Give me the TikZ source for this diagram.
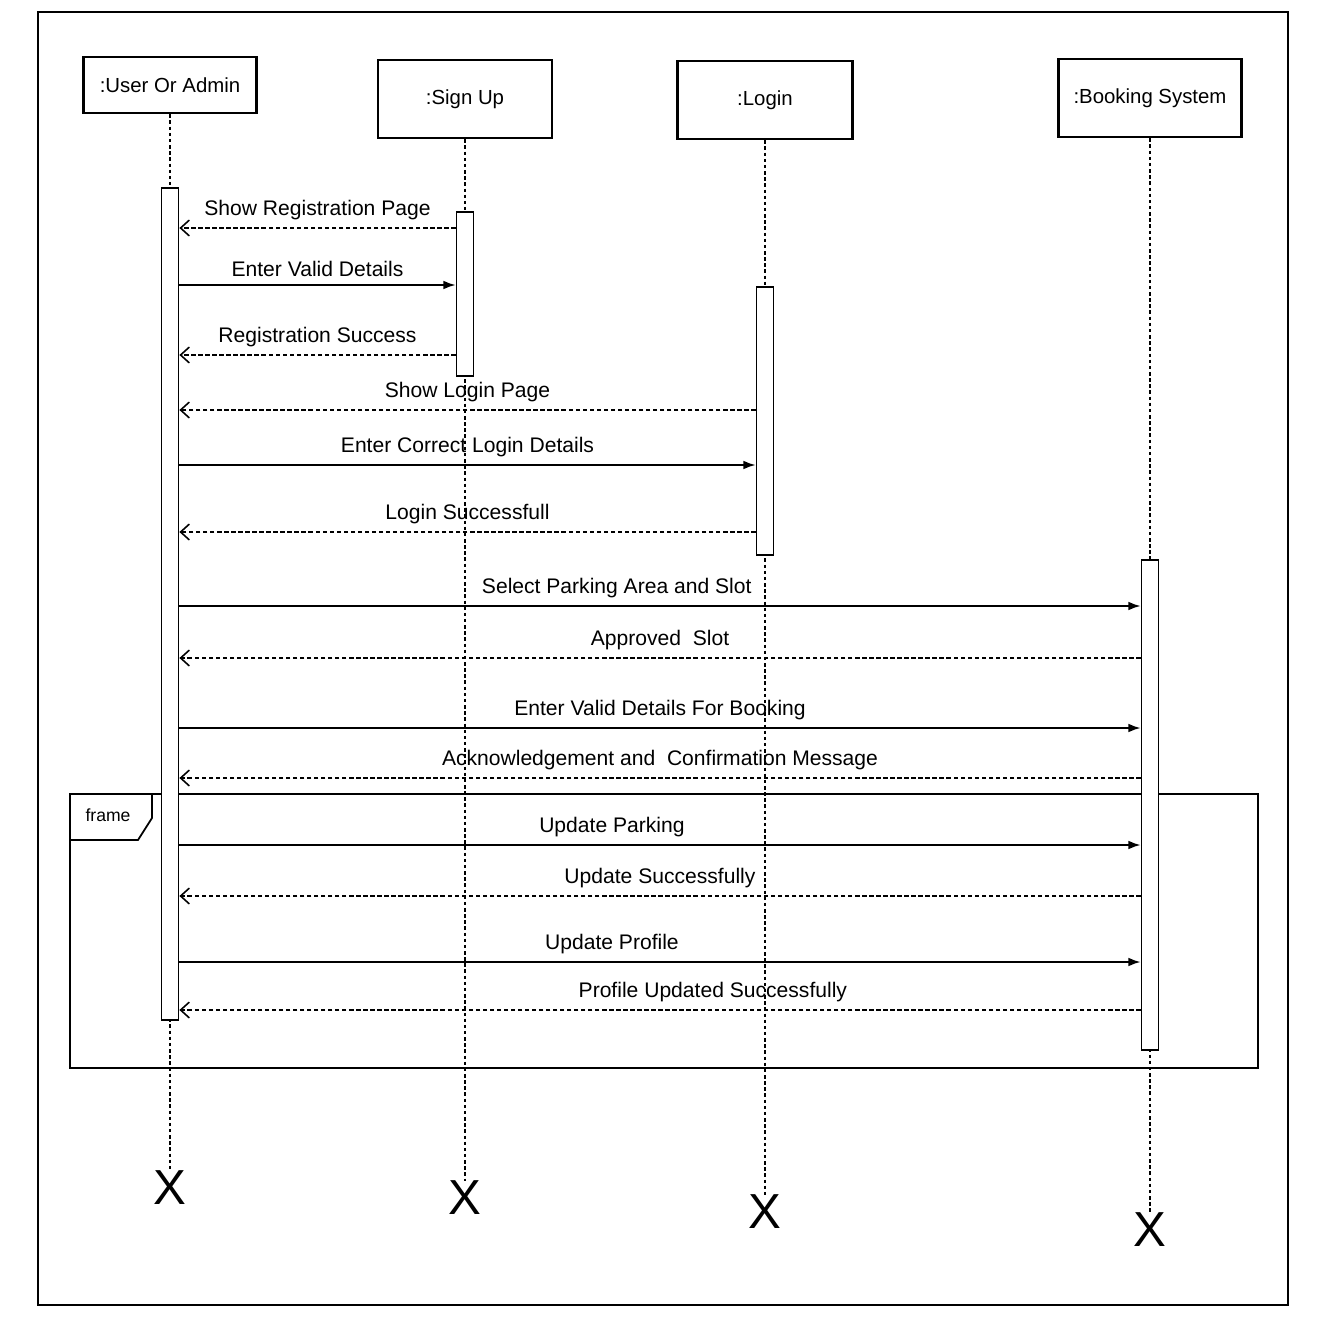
\documentclass[tikz,border=0pt]{standalone}
\usepackage{fontspec}
\setmainfont{Liberation Sans}
\usetikzlibrary{arrows.meta,positioning,calc}

\begin{document}
\begin{tikzpicture}[x=0.02cm,y=-0.02cm,
        actor/.style={draw,rectangle,line width=1.5pt,inner sep=0pt,font=\fontsize{11.6}{13}\selectfont},
        bar/.style={draw,rectangle,fill=white,line width=1pt,minimum width=0.34cm,inner sep=0pt},
        life/.style={line width=0.7pt,dash pattern=on 2pt off 1.5pt},
        call/.style={draw,-{Latex[length=7pt,width=5pt]},line width=1pt},
        reply/.style={draw,-{Straight Barb[length=5pt,width=9pt]},line width=0.9pt,dash pattern=on 2.5pt off 1.5pt},
        lbl/.style={above,inner sep=4pt,font=\fontsize{12}{14}\selectfont},
        endx/.style={inner sep=0pt,font=\fontsize{28}{30}\selectfont}]
    \fill[white,use as bounding box] (0,0) rectangle (1316,1339);
    \draw[line width=1.1pt] (38,12) rectangle (1288,1305);
    % lifeline heads
    \node[actor,minimum width=3.46cm,minimum height=1.12cm] (user) at (170,85) {:User Or Admin};
    \node[actor,minimum width=3.48cm,minimum height=1.56cm] (signup) at (465,99) {:Sign Up};
    \node[actor,minimum width=3.5cm,minimum height=1.56cm] (login) at (765,100) {:Login};
    \node[actor,minimum width=3.66cm,minimum height=1.56cm] (booking) at (1150,98) {:Booking System};
    % destruction marks
    \node[endx] (userX) at (170,1188) {X};
    \node[endx] (signupX) at (465,1198) {X};
    \node[endx] (loginX) at (765,1212) {X};
    \node[endx] (bookingX) at (1150,1230) {X};
    \draw[life] (user) -- (userX);
    \draw[life] (signup) -- (signupX);
    \draw[life] (login) -- (loginX);
    \draw[life] (booking) -- (bookingX);
    % combined fragment
    \draw[line width=1.2pt] (70,794) rectangle (1258,1068);
    \draw[line width=1pt] (70,794) -- (152,794) -- (152,818) -- (138,840) -- (70,840);
    \node[font=\fontsize{10}{12}\selectfont] (frm) at (108,815) {frame};
    % activations
    \node[bar,minimum height=16.64cm] (ubar) at (170,604) {};
    \node[bar,minimum height=3.28cm] (sbar) at (465,294) {};
    \node[bar,minimum height=5.36cm] (lbar) at (765,421) {};
    \node[bar,minimum height=9.8cm] (bbar) at (1150,805) {};
    % messages
    \path
        (sbar.west |- 0,228) edge[reply] node[lbl] {Show Registration Page} (ubar.east |- 0,228)
        (ubar.east |- 0,285) edge[call] node[lbl] {Enter Valid Details} (sbar.west |- 0,285)
        (sbar.west |- 0,355) edge[reply] node[lbl] {Registration Success} (ubar.east |- 0,355)
        (lbar.west |- 0,410) edge[reply] node[lbl] {Show Login Page} (ubar.east |- 0,410)
        (ubar.east |- 0,465) edge[call] node[lbl] {Enter Correct Login Details} (lbar.west |- 0,465)
        (lbar.west |- 0,532) edge[reply] node[lbl] {Login Successfull} (ubar.east |- 0,532)
        (ubar.east |- 0,606) edge[call] node[lbl,pos=0.455] {Select Parking Area and Slot} (bbar.west |- 0,606)
        (bbar.west |- 0,658) edge[reply] node[lbl] {Approved\ \ Slot} (ubar.east |- 0,658)
        (ubar.east |- 0,728) edge[call] node[lbl] {Enter Valid Details For Booking} (bbar.west |- 0,728)
        (bbar.west |- 0,778) edge[reply] node[lbl] {Acknowledgement and\ \ Confirmation Message} (ubar.east |- 0,778)
        (ubar.east |- 0,845) edge[call] node[lbl,pos=0.45] {Update Parking} (bbar.west |- 0,845)
        (bbar.west |- 0,896) edge[reply] node[lbl] {Update Successfully} (ubar.east |- 0,896)
        (ubar.east |- 0,962) edge[call] node[lbl,pos=0.45] {Update Profile} (bbar.west |- 0,962)
        (bbar.west |- 0,1010) edge[reply] node[lbl,pos=0.445] {Profile Updated Successfully} (ubar.east |- 0,1010);
\end{tikzpicture}
\end{document}
